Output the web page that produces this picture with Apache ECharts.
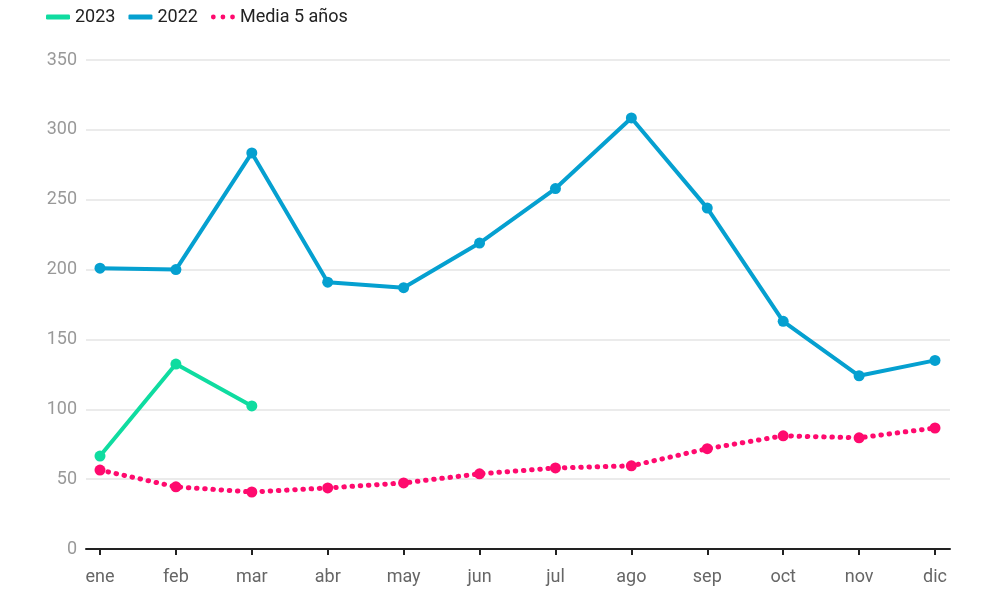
<!DOCTYPE html>
<html>
<head>
<meta charset="utf-8">
<script src="https://cdn.jsdelivr.net/npm/echarts@6/dist/echarts.min.js"></script>
<style>html,body{margin:0;padding:0;background:#fff}#c{width:1000px;height:589px}</style>
</head>
<body>
<div id="c"></div>
<script>
const months = ['ene','feb','mar','abr','may','jun','jul','ago','sep','oct','nov','dic'];
const s2023 = [66.5, 132.4, 102.4];
const s2022 = [201, 200, 283.5, 191, 187, 219, 258, 308.5, 244, 163, 124, 135];
const media = [56.5, 44.5, 40.8, 43.7, 47.3, 53.8, 58, 59.5, 71.8, 81, 79.6, 86.6];
const yTicks = { min: 0, max: 350, interval: 50 };

const idx = months.map((_, i) => i);
const toPts = arr => arr.map((v, i) => [i, v]);
const font = 'Roboto, "Noto Sans", sans-serif';
const dots = 'path://M0,2a2,2 0 1,0 4,0a2,2 0 1,0 -4,0zM8,2a2,2 0 1,0 4,0a2,2 0 1,0 -4,0zM16,2a2,2 0 1,0 4,0a2,2 0 1,0 -4,0z';

const chart = echarts.init(document.getElementById('c'), null, { renderer: 'canvas' });
chart.setOption({
  animation: false,
  backgroundColor: '#fff',
  textStyle: { fontFamily: font },
  legend: {
    left: 41, top: 3,
    itemWidth: 24, itemHeight: 5, itemGap: 13,
    textStyle: { fontSize: 18, color: '#222', fontFamily: font },
    data: [
      { name: '2023', icon: 'roundRect' },
      { name: '2022', icon: 'roundRect' },
      { name: 'Media 5 años', icon: dots }
    ]
  },
  grid: { left: 86, right: 50, top: 60, bottom: 40, containLabel: false },
  xAxis: {
    type: 'value',
    min: -0.1844, max: 11.1976,
    axisLine: { show: true, lineStyle: { color: '#222', width: 2 } },
    axisTick: { show: true, customValues: idx, length: 6, lineStyle: { color: '#222', width: 2 } },
    axisLabel: { customValues: idx, formatter: v => months[Math.round(v)], color: '#666', fontSize: 18, margin: 19, fontFamily: font },
    splitLine: { show: false }
  },
  yAxis: {
    type: 'value',
    min: yTicks.min, max: yTicks.max, interval: yTicks.interval,
    axisLine: { show: false },
    axisTick: { show: false },
    axisLabel: { color: '#999', fontSize: 18, margin: 9, fontFamily: font },
    splitLine: { lineStyle: { color: '#e4e4e4', width: 1.5 } }
  },
  series: [
    {
      name: '2023', type: 'line', data: toPts(s2023), color: '#0fdca0',
      symbol: 'circle', symbolSize: 11, lineStyle: { width: 4, color: '#0fdca0' },
      itemStyle: { color: '#0fdca0' }, z: 4
    },
    {
      name: '2022', type: 'line', data: toPts(s2022), color: '#05a0d0',
      symbol: 'circle', symbolSize: 11, lineStyle: { width: 4, color: '#05a0d0' },
      itemStyle: { color: '#05a0d0' }, z: 3
    },
    {
      name: 'Media 5 años', type: 'line', data: toPts(media), color: '#ff0a6e',
      symbol: 'circle', symbolSize: 11,
      lineStyle: { width: 5, color: '#ff0a6e', type: [0.5, 7.7], cap: 'round' },
      itemStyle: { color: '#ff0a6e' }, z: 2
    }
  ]
});
</script>
</body>
</html>
